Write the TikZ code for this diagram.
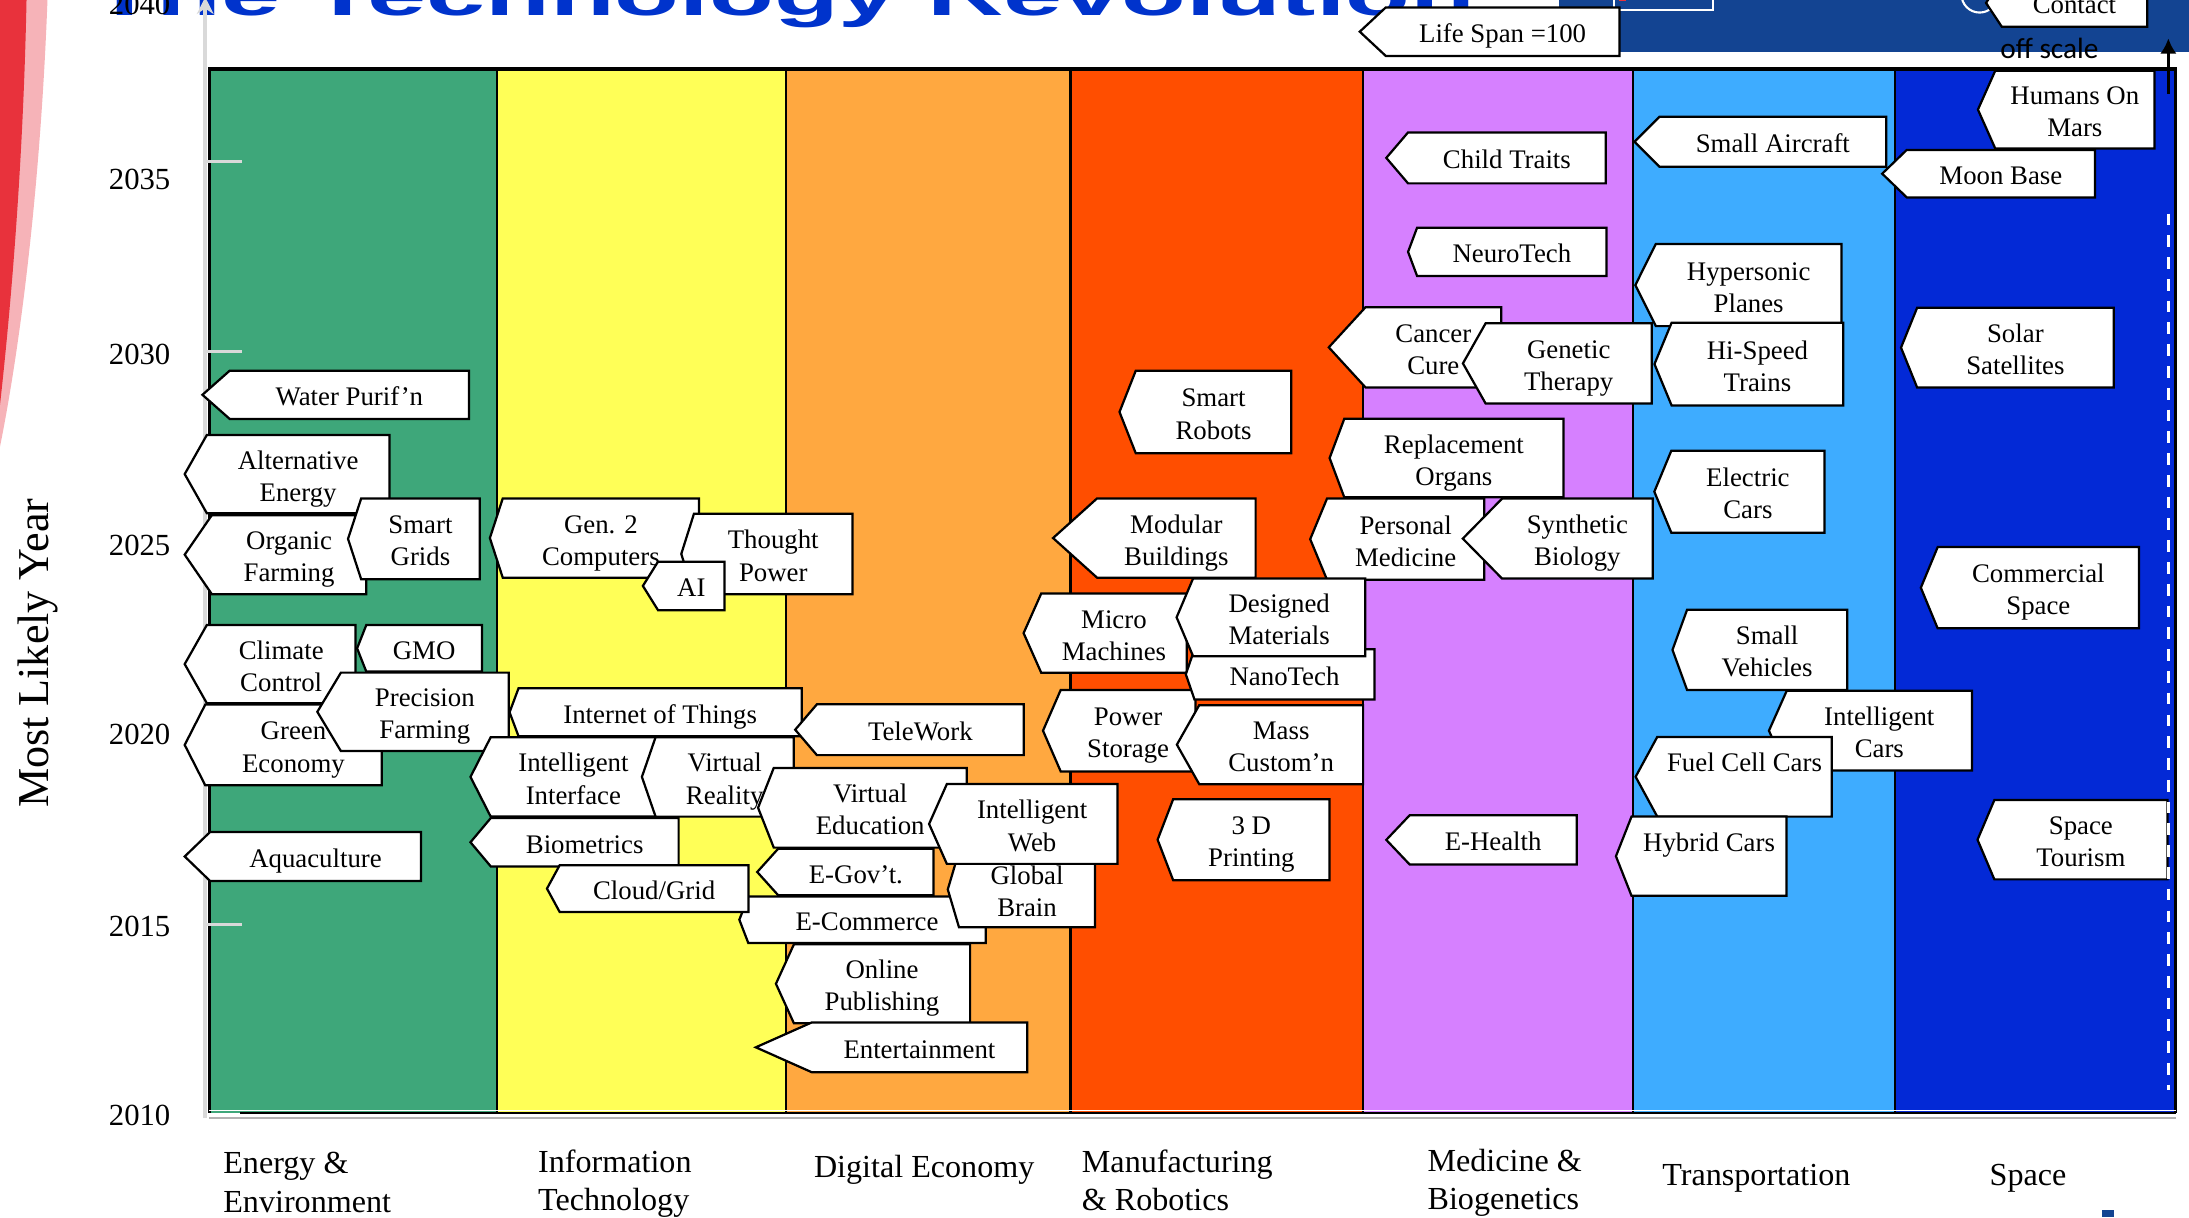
\documentclass[tikz,border=0pt]{standalone}
\usepackage{graphicx}
\usepackage{fontspec}
\setmainfont{Liberation Serif}
\newfontfamily\headfont{Liberation Sans}
\newfontfamily\notefont{Carlito}
\usetikzlibrary{arrows.meta,shapes.symbols}

\definecolor{energygreen}{HTML}{3EA77A}
\definecolor{infoyellow}{HTML}{FFFF57}
\definecolor{digitalorange}{HTML}{FFA840}
\definecolor{manured}{HTML}{FF4E00}
\definecolor{medviolet}{HTML}{D680FF}
\definecolor{translight}{HTML}{3EACFF}
\definecolor{spaceblue}{HTML}{0329D6}
\definecolor{bannerblue}{HTML}{134492}
\definecolor{titleblue}{HTML}{0033CC}
\definecolor{axisgray}{HTML}{D9D9D9}
\definecolor{swooshred}{HTML}{E8323C}
\definecolor{swooshpink}{HTML}{F6B3B8}

% line box of the slide text
\newcommand\topstrut{\rule{0pt}{1.04em}}
\newcommand\botstrut{\rule[-0.216em]{0pt}{0.216em}}
\newcommand\lines[2]{\topstrut#1\\#2\botstrut}

\begin{document}
\begin{tikzpicture}[x=1pt,y=-1pt,every node/.style={inner sep=0pt,outer sep=0pt},
	techbox/.style={signal,signal to=west,draw,fill=white,line width=1.6pt,anchor=east,align=center,font=\fontsize{19.2}{23}\selectfont,
		execute at begin node=\topstrut,execute at end node=\botstrut},
	yearlabel/.style={font=\fontsize{22}{26}\selectfont},
	catlabel/.style={align=left,font=\fontsize{23}{27.5}\selectfont}]
	\useasboundingbox (0,0) rectangle (1568,872);

	% slide background
	\fill[swooshpink] (0,0) -- (34,0) .. controls (30,110) and (18,230) .. (0,320) -- cycle;
	\fill[swooshred] (0,0) -- (19,0) .. controls (17,100) and (10,200) .. (0,290) -- cycle;
	\node[anchor=base west,text=titleblue,font=\headfont\bfseries\fontsize{76}{80}\selectfont] (title) at (66,11) {\scalebox{1}[0.55]{The Technology Revolution}};
	\fill[bannerblue] (1117,0) rectangle (1568,37);
	\draw[white,line width=1.5pt] (1156,-5) rectangle (1227,7);
	\fill[swooshred] (1160,-2) rectangle (1165,1);
	\draw[white,line width=1.5pt] (1418,-4) circle (13);
	\fill[bannerblue] (1506,867) rectangle (1514,872);

	% columns
	\fill[energygreen] (150,49.4) rectangle (356.3,797);
	\fill[infoyellow] (356.3,49.4) rectangle (562.8,797);
	\fill[digitalorange] (562.8,49.4) rectangle (766.8,797);
	\fill[manured] (766.8,49.4) rectangle (976.2,797);
	\fill[medviolet] (976.2,49.4) rectangle (1169.6,797);
	\fill[translight] (1169.6,49.4) rectangle (1357.6,797);
	\fill[spaceblue] (1357.6,49.4) rectangle (1558.4,797);
	\draw[line width=1.5pt] (356.3,49.4) -- (356.3,797) (562.8,49.4) -- (562.8,797) (766.8,49.4) -- (766.8,797)
		(976.2,49.4) -- (976.2,797) (1169.6,49.4) -- (1169.6,797) (1357.6,49.4) -- (1357.6,797);
	\draw[line width=2.5pt] (150,797) -- (150,49.4) -- (1558.4,49.4) -- (1558.4,797);
	\draw[line width=1.5pt] (172,797) -- (1558.4,797);
	\draw[white,line width=1pt] (150,795.5) -- (1558.4,795.5);
	\draw[gray!60,line width=1.2pt] (150,801) -- (1558.4,801);

	% axis
	\draw[axisgray,line width=2.5pt,-{Stealth[length=12pt,width=12pt]}] (147,801) -- (147,-2);
	\draw[axisgray,line width=2.5pt] (147,115.8) -- (173,115.8) (147,251.9) -- (173,251.9) (147,662.3) -- (173,662.3);
	\node[yearlabel] (y2040) at (100,3) {2040};
	\node[yearlabel] (y2035) at (100,128.3) {2035};
	\node[yearlabel] (y2030) at (100,253.7) {2030};
	\node[yearlabel] (y2025) at (100,391) {2025};
	\node[yearlabel] (y2020) at (100,526.2) {2020};
	\node[yearlabel] (y2015) at (100,663.6) {2015};
	\node[yearlabel] (y2010) at (100,799) {2010};
	\node[rotate=90,font=\fontsize{31.6}{36}\selectfont] (yaxis) at (27,468) {Most Likely Year};

	% energy & environment
	\node[techbox,minimum width=191pt,minimum height=34.5pt,signal pointer angle=83] (water) at (336,282.8) {Water Purif’n};
	\node[techbox,minimum width=146.7pt,minimum height=56pt,signal pointer angle=121] (altenergy) at (279,339.6) {\lines{Alternative}{Energy}};
	\node[techbox,minimum width=130.1pt,minimum height=56.6pt,signal pointer angle=111] (organic) at (262.4,397.3) {\lines{Organic}{Farming}};
	\node[techbox,minimum width=94.3pt,minimum height=58pt,signal pointer angle=144] (smartgrids) at (343.6,386) {\lines{Smart}{Grids}};
	\node[techbox,minimum width=122.4pt,minimum height=56pt,signal pointer angle=121] (climate) at (254.7,475.7) {\lines{Climate}{Control}};
	\node[techbox,minimum width=89.5pt,minimum height=33.3pt,signal pointer angle=137] (gmo) at (345.3,464.4) {GMO};
	\node[techbox,minimum width=141.1pt,minimum height=57.8pt,signal pointer angle=126] (green) at (273.4,533.6) {\lines{Green}{Economy}};
	\node[techbox,minimum width=137.1pt,minimum height=56.2pt,signal pointer angle=118] (precision) at (364.4,509.9) {\lines{Precision}{Farming}};
	\node[techbox,minimum width=169.2pt,minimum height=35.1pt,signal pointer angle=88] (aqua) at (301.5,613.5) {Aquaculture};

	% information technology, digital economy
	\node[techbox,minimum width=149.8pt,minimum height=56.8pt,signal pointer angle=144] (gen2) at (500.7,385.4) {\lines{Gen. 2}{Computers}};
	\node[techbox,minimum width=122.7pt,minimum height=57.6pt,signal pointer angle=145] (thought) at (610.7,396.8) {\lines{Thought}{Power}};
	\node[techbox,minimum width=58.5pt,minimum height=34.7pt,signal pointer angle=116] (ai) at (519,419.7) {AI};
	\node[techbox,minimum width=209.3pt,minimum height=34.5pt,signal pointer angle=139] (iot) at (574.3,510.2) {Internet of Things};
	\node[techbox,minimum width=163.7pt,minimum height=36.4pt,signal pointer angle=99] (telework) at (733.3,522.7) {TeleWork};
	\node[techbox,minimum width=133pt,minimum height=56.8pt,signal pointer angle=126] (interface) at (470,556.5) {\lines{Intelligent}{Interface}};
	\node[techbox,minimum width=108.8pt,minimum height=56.9pt,signal pointer angle=142] (vr) at (568.6,556.5) {\lines{Virtual}{Reality}};
	\node[techbox,minimum width=149.4pt,minimum height=57.1pt,signal pointer angle=137] (viredu) at (692.4,578.6) {\lines{Virtual}{Education}};
	\node[techbox,minimum width=149.1pt,minimum height=34.6pt,signal pointer angle=100] (biometrics) at (486.1,603.3) {Biometrics};
	\node[techbox,minimum width=126.3pt,minimum height=33.4pt,signal pointer angle=96] (egov) at (668.7,624.6) {E-Gov’t.};
	\node[techbox,minimum width=176.5pt,minimum height=33.3pt,signal pointer angle=138] (ecommerce) at (706.1,658.8) {E-Commerce};
	\node[techbox,minimum width=144.4pt,minimum height=33.4pt,signal pointer angle=123] (cloud) at (536.2,636.5) {Cloud/Grid};
	\node[techbox,minimum width=105.5pt,minimum height=54.2pt,signal pointer angle=147] (brain) at (784.4,637.1) {\lines{Global}{Brain}};
	\node[techbox,minimum width=134.9pt,minimum height=57.2pt,signal pointer angle=132] (intweb) at (800.4,590.2) {\lines{Intelligent}{Web}};
	\node[techbox,minimum width=139.1pt,minimum height=56.6pt,signal pointer angle=131] (publishing) at (694.9,704.7) {\lines{Online}{Publishing}};
	\node[techbox,minimum width=194.4pt,minimum height=35.6pt,signal pointer angle=48] (entertain) at (735.8,750.2) {Entertainment};

	% medicine & biogenetics
	\node[techbox,minimum width=186pt,minimum height=34.8pt,signal pointer angle=86] (lifespan) at (1160,22.7) {Life Span =100};
	\node[techbox,minimum width=157.2pt,minimum height=36.5pt,signal pointer angle=99] (child) at (1150.2,113.1) {Child Traits};
	\node[techbox,minimum width=142.2pt,minimum height=34.6pt,signal pointer angle=139] (neuro) at (1150.8,180.4) {NeuroTech};
	\node[techbox,minimum width=123.5pt,minimum height=57.4pt,signal pointer angle=95] (cancer) at (1075.3,248.8) {\lines{Cancer}{Cure}};
	\node[techbox,minimum width=147.7pt,minimum height=58.8pt,signal pointer angle=127] (hypersonic) at (1319.1,204.2) {\lines{Hypersonic}{Planes}};
	\node[techbox,minimum width=135.3pt,minimum height=57.4pt,signal pointer angle=121] (genetic) at (1183.2,260.3) {\lines{Genetic}{Therapy}};
	\node[techbox,minimum width=167.6pt,minimum height=56.2pt,signal pointer angle=139] (organs) at (1120,328.1) {\lines{Replacement}{Organs}};
	\node[techbox,minimum width=124.7pt,minimum height=58.2pt,signal pointer angle=135] (personal) at (1063.2,386.2) {\lines{Personal}{Medicine}};
	\node[techbox,minimum width=136pt,minimum height=57.3pt,signal pointer angle=91] (synthetic) at (1183.8,385.8) {\lines{Synthetic}{Biology}};
	\node[techbox,minimum width=136.4pt,minimum height=35.2pt,signal pointer angle=93] (ehealth) at (1129.4,601.6) {E-Health};

	% manufacturing & robotics
	\node[techbox,minimum width=123.1pt,minimum height=59.2pt,signal pointer angle=137] (robots) at (925,295.1) {\lines{Smart}{Robots}};
	\node[techbox,minimum width=145.1pt,minimum height=56.8pt,signal pointer angle=84] (modular) at (899.4,385.4) {\lines{Modular}{Buildings}};
	\node[techbox,minimum width=116.8pt,minimum height=56.9pt,signal pointer angle=132] (micro) at (850,453.5) {\lines{Micro}{Machines}};
	\node[techbox,minimum width=109.3pt,minimum height=58.4pt,signal pointer angle=133] (storage) at (856.4,523.4) {\lines{Power}{Storage}};
	\node[techbox,minimum width=135.2pt,minimum height=36pt,signal pointer angle=142] (nanotech) at (984.6,483) {NanoTech};
	\node[techbox,minimum width=135.2pt,minimum height=55.7pt,signal pointer angle=134] (designed) at (978,442.2) {\lines{Designed}{Materials}};
	\node[techbox,minimum width=133.4pt,minimum height=56.6pt,signal pointer angle=121] (mass) at (976.4,533.4) {\lines{Mass}{Custom’n}};
	\node[techbox,minimum width=123.2pt,minimum height=57.9pt,signal pointer angle=138] (printing) at (952.4,601.5) {\lines{3 D}{Printing}};

	% transportation
	\node[techbox,minimum width=180.3pt,minimum height=35.8pt,signal pointer angle=90] (aircraft) at (1351.1,101.5) {Small Aircraft};
	\node[techbox,minimum width=135.3pt,minimum height=59.3pt,signal pointer angle=135] (trains) at (1320.4,260.8) {\lines{Hi-Speed}{Trains}};
	\node[techbox,minimum width=121.9pt,minimum height=58.7pt,signal pointer angle=135] (electric) at (1306.9,352.2) {\lines{Electric}{Cars}};
	\node[techbox,minimum width=125.1pt,minimum height=57.6pt,signal pointer angle=140] (vehicles) at (1323.1,465.5) {\lines{Small}{Vehicles}};
	\node[techbox,minimum width=145.4pt,minimum height=57.1pt,signal pointer angle=132] (intcars) at (1412.5,523.4) {\lines{Intelligent}{Cars}};
	\node[techbox,minimum width=140.5pt,minimum height=57.1pt,signal pointer angle=123] (fuelcell) at (1312.1,556.4) {\lines{Fuel Cell Cars}{}};
	\node[techbox,minimum width=122.2pt,minimum height=56.8pt,signal pointer angle=137] (hybrid) at (1279.7,613.3) {\lines{Hybrid Cars}{}};

	% space
	\node[techbox,minimum width=126.4pt,minimum height=55.7pt,signal pointer angle=132] (mars) at (1543.2,78.5) {\lines{Humans On}{Mars}};
	\node[techbox,minimum width=152.4pt,minimum height=34pt,signal pointer angle=88] (moon) at (1500.6,124.4) {Moon Base};
	\node[techbox,minimum width=152.3pt,minimum height=57.1pt,signal pointer angle=136] (solar) at (1514,249) {\lines{Solar}{Satellites}};
	\node[techbox,minimum width=156.3pt,minimum height=58.2pt,signal pointer angle=135] (commercial) at (1532.2,421) {\lines{Commercial}{Space}};
	\node[techbox,minimum width=136pt,minimum height=56.8pt,signal pointer angle=134] (tourism) at (1552.5,601.5) {\lines{Space}{Tourism}};
	\node[techbox,minimum width=115.4pt,minimum height=34pt,signal pointer angle=113] (contact) at (1538,2.1) {Contact};

	% off scale marker
	\coordinate (dashtop) at (1553.2,153);
	\coordinate (dashfoot) at (1553.2,781);
	\coordinate (arrowfoot) at (1553.2,67);
	\coordinate (arrowtip) at (1553.2,27.5);
	\draw[white,line width=1.8pt,dash pattern=on 8.4pt off 7.2pt] (dashtop) -- (dashfoot);
	\draw[line width=2.3pt,-{Latex[length=11pt,width=12pt]}] (arrowfoot) -- (arrowtip);
	\node[font=\notefont\fontsize{21}{25}\selectfont] (offscale) at (1468,35) {off scale};

	% categories
	\node[catlabel,anchor=north west] (energy) at (160,825.5) {Energy \&\\Environment};
	\node[catlabel,anchor=north west] (infotech) at (385.5,823.5) {Information\\Technology};
	\node[catlabel,anchor=base] (digital) at (662,843.3) {Digital Economy};
	\node[catlabel,anchor=north west] (manufact) at (775,823.5) {Manufacturing\\\& Robotics};
	\node[catlabel,anchor=north west] (medicine) at (1022.6,823) {Medicine \&\\Biogenetics};
	\node[catlabel,anchor=base] (transport) at (1258.1,849) {Transportation};
	\node[catlabel,anchor=base] (space) at (1452.7,849) {Space};
\end{tikzpicture}
\end{document}
